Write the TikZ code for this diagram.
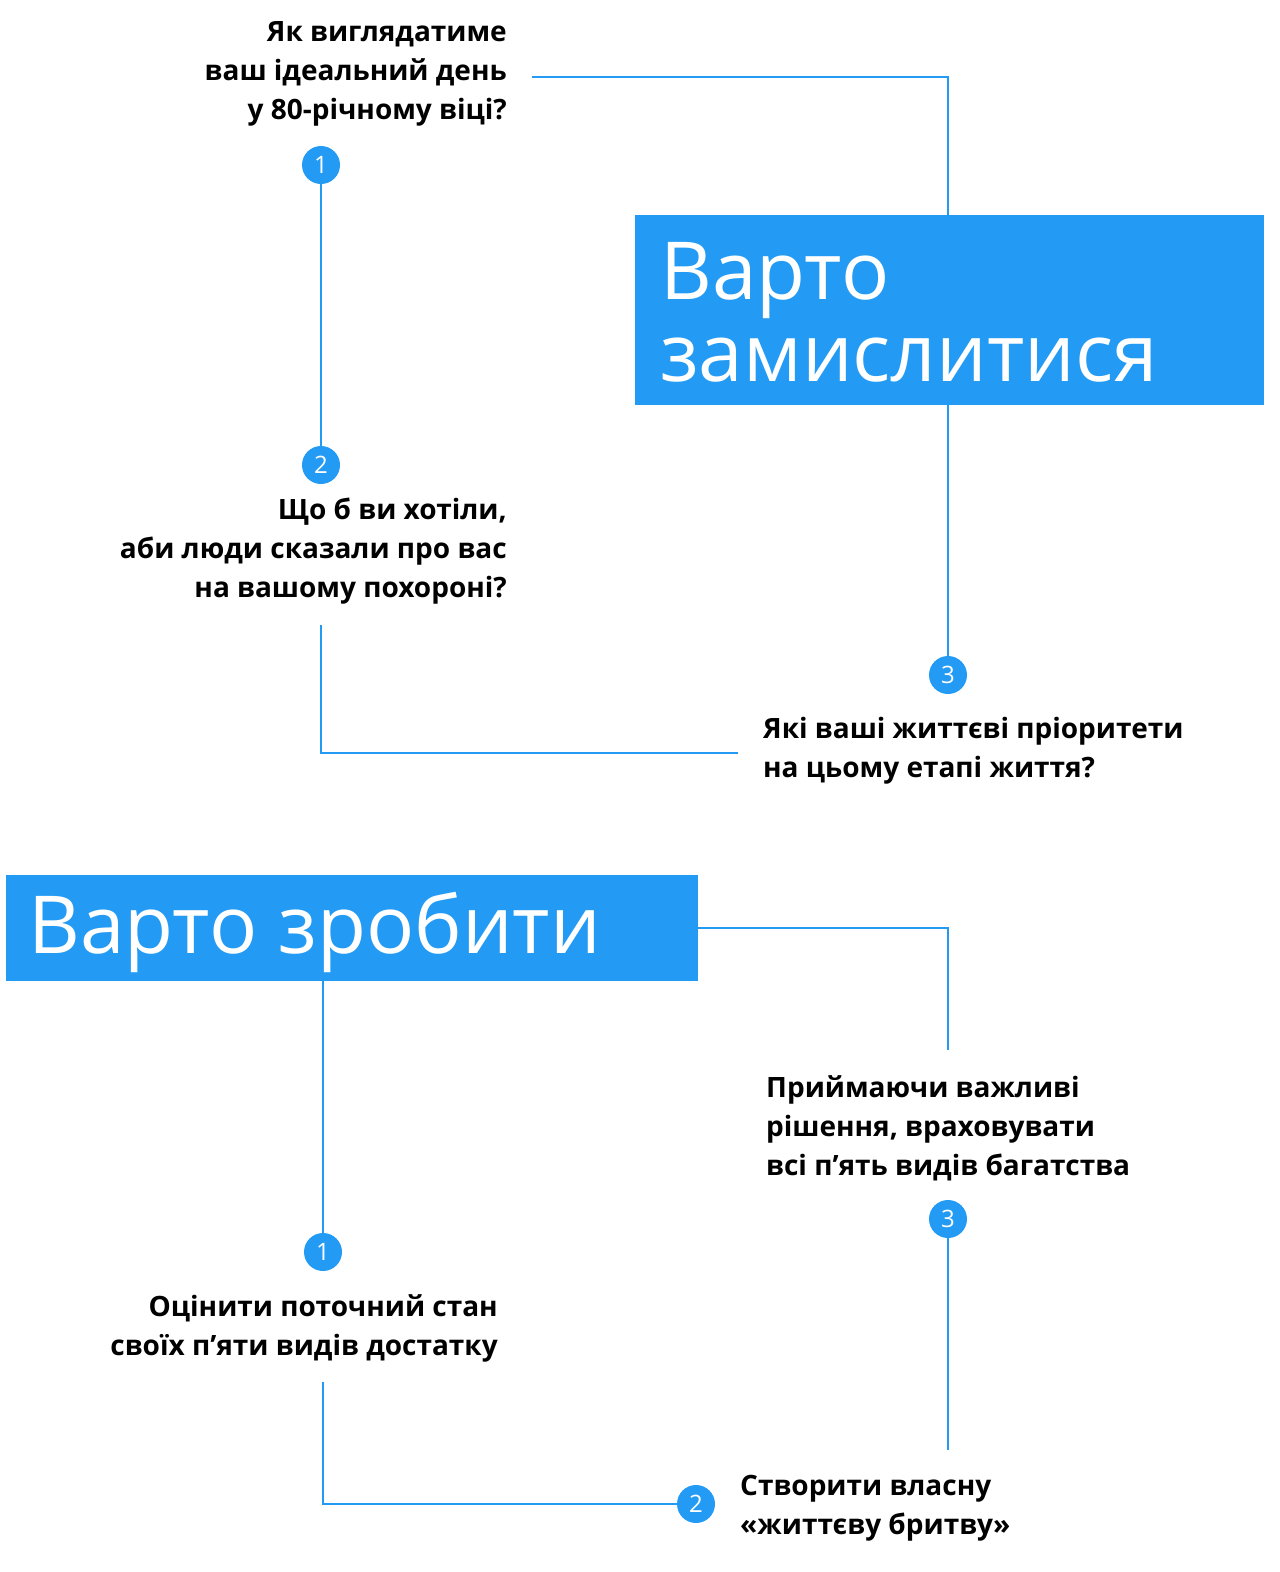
\documentclass[tikz,border=0pt]{standalone}
\usepackage{fontspec}
\setmainfont{Open Sans}
\usetikzlibrary{positioning}
\definecolor{mainblue}{HTML}{239BF5}
\tikzset{
    link/.style={draw=mainblue, line width=1.6pt},
    stepdot/.style={circle, fill=mainblue, minimum size=38pt, inner sep=0pt, text=white, font=\fontsize{24}{24}\selectfont},
    ask/.style={font=\fontsize{28}{39}\selectfont\bfseries, inner sep=0pt},
    title/.style={fill=mainblue, text=white, font=\fontsize{80}{82}\selectfont, align=left, inner sep=0pt}
}
\begin{document}
\begin{tikzpicture}[x=1pt, y=-1pt]
    \useasboundingbox (0,0) rectangle (1280,1572);
    % top part
    \fill[mainblue] (635,215) rectangle (1264,405);
    \node[title, anchor=west] (think) at (660,312) {Варто\\замислитися};
    \coordinate (thinktop) at (948,215);
    \coordinate (thinkbot) at (948,405);
    \node[ask, anchor=east, align=right] (q1) at (507,74) {Як виглядатиме\\ваш ідеальний день\\у 80-річному віці?};
    \node[stepdot] (c1) at (321,165) {1};
    \node[stepdot] (c2) at (321,465) {2};
    \node[ask, anchor=east, align=right] (q2) at (507,551) {Що б ви хотіли,\\аби люди сказали про вас\\на вашому похороні?};
    \node[stepdot] (c3) at (948,675) {3};
    \node[ask, anchor=west, align=left] (q3) at (763,751) {Які ваші життєві пріоритети\\на цьому етапі життя?};
    \draw[link] (532,77) -| (thinktop);
    \draw[link] (c1) -- (c2);
    \draw[link] (321,625) |- (738,753);
    \draw[link] (thinkbot) -- (c3);
    % bottom part
    \fill[mainblue] (6,875) rectangle (698,981);
    \node[title, anchor=west] (do) at (28,932) {Варто зробити};
    \coordinate (doright) at (698,928);
    \coordinate (dobot) at (323,981);
    \node[ask, anchor=west, align=left] (t3) at (766,1128) {Приймаючи важливі\\рішення, враховувати\\всі п’ять видів багатства};
    \node[stepdot] (d3) at (948,1219) {3};
    \node[stepdot] (d1) at (323,1252) {1};
    \node[ask, anchor=east, align=right] (t1) at (498,1328) {Оцінити поточний стан\\своїх п’яти видів достатку};
    \node[stepdot] (d2) at (696,1504) {2};
    \node[ask, anchor=west, align=left] (t2) at (740,1508) {Створити власну\\«життєву бритву»};
    \draw[link] (doright) -| (948,1050);
    \draw[link] (d3) -- (948,1450);
    \draw[link] (dobot) -- (d1);
    \draw[link] (323,1382) |- (d2);
\end{tikzpicture}
\end{document}
